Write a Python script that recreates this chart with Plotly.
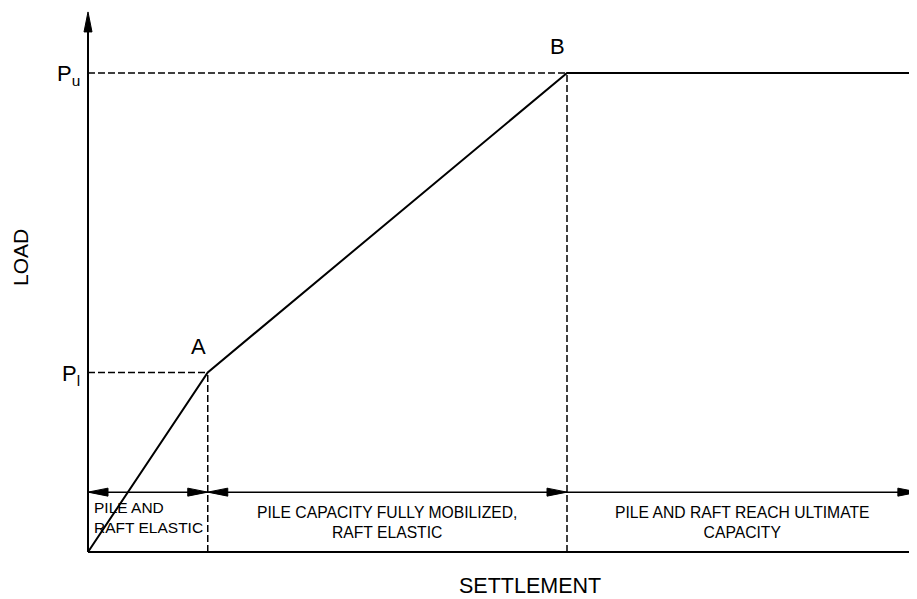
import plotly.graph_objects as go

# ---- data (settlement / load in arbitrary units) ----
settlement = [0.0, 1.0, 4.0, 6.93]
load = [0.0, 1.5, 4.0, 4.0]
point_labels = ["A", "B"]
point_settlement = [1.0, 4.0]
point_load = [1.5, 4.0]
load_tick_labels = ["P<sub>l</sub>", "P<sub>u</sub>"]
zone_bounds = [0.0, 1.0, 4.0, 6.93]
zone_texts = [
    "PILE AND<br>RAFT ELASTIC",
    "PILE CAPACITY FULLY MOBILIZED,<br>RAFT ELASTIC",
    "PILE AND RAFT REACH ULTIMATE<br>CAPACITY",
]
zone_arrow_load = 0.5
y_axis_top = 4.51

# ---- layout constants ----
PAGE_W, PAGE_H = 917, 599
OFF = 8                      # default body margin of the html page
W, H = PAGE_W - OFF, PAGE_H - OFF
PX = 119.75                  # pixels per data unit
X0, Y0 = 88, 552             # page pixel position of origin
FONT = "Liberation Sans, Arial, Helvetica, sans-serif"
BLACK = "#000000"

xr = [-(X0 - OFF) / PX, (PAGE_W - X0) / PX]
yr = [-(PAGE_H - Y0) / PX, (Y0 - OFF) / PX]

fig = go.Figure()

def line(xs, ys, width=2, dash=None):
    fig.add_trace(go.Scatter(x=xs, y=ys, mode="lines",
                             line=dict(color=BLACK, width=width, dash=dash),
                             hoverinfo="skip", showlegend=False))

def head(tx, ty, dx, dy, length=20, half=4):
    L, Wd = length / PX, half / PX
    bx, by = tx - dx * L, ty - dy * L
    px_, py_ = -dy * Wd, dx * Wd
    fig.add_trace(go.Scatter(
        x=[tx, bx + px_, bx - px_, tx], y=[ty, by + py_, by - py_, ty],
        mode="lines", fill="toself", fillcolor=BLACK,
        line=dict(color=BLACK, width=1), hoverinfo="skip", showlegend=False))

# axes
line([0, 0], [0, y_axis_top - 0.1], width=2)
head(0, y_axis_top, 0, 1)
line([0, zone_bounds[-1]], [0, 0], width=2)

# dashed guide lines
for s, p in zip(point_settlement, point_load):
    line([0, s], [p, p], width=1.5, dash="7px,3px")
    line([s, s], [0, p], width=1.5, dash="7px,3px")

# load-settlement curve
line(settlement, load, width=2)

# zone dimension line with arrowheads
line([zone_bounds[0], zone_bounds[-1]], [zone_arrow_load] * 2, width=1.5)
head(zone_bounds[0], zone_arrow_load, -1, 0)
head(zone_bounds[1], zone_arrow_load, 1, 0)
head(zone_bounds[1], zone_arrow_load, -1, 0)
head(zone_bounds[2], zone_arrow_load, 1, 0)
head(zone_bounds[3], zone_arrow_load, 1, 0)

ann = []
# zone texts
ann.append(dict(x=zone_bounds[0] + 4 / PX, y=(Y0 - 517.5) / PX, text=zone_texts[0],
                xanchor="left", yanchor="middle", align="left", showarrow=False,
                font=dict(size=15.5, family=FONT, color=BLACK)))
for i in (1, 2):
    ann.append(dict(x=(zone_bounds[i] + zone_bounds[i + 1]) / 2, y=(Y0 - 522) / PX,
                    text=zone_texts[i], xanchor="center", yanchor="middle",
                    align="center", showarrow=False,
                    font=dict(size=15.7, family=FONT, color=BLACK)))
# point labels
for lab, s, p in zip(point_labels, point_settlement, point_load):
    ann.append(dict(x=s - 0.08, y=p + 0.22, text=lab, showarrow=False,
                    xanchor="center", yanchor="middle",
                    font=dict(size=22, family=FONT, color=BLACK)))
# load tick labels
for lab, p in zip(load_tick_labels, point_load):
    ann.append(dict(x=-6 / PX, y=p - 0.02, text=lab, showarrow=False,
                    xanchor="right", yanchor="middle",
                    font=dict(size=22, family=FONT, color=BLACK)))
# axis titles
ann.append(dict(x=(20 - X0) / PX, y=(Y0 - 258) / PX, text="LOAD", textangle=-90,
                showarrow=False, xanchor="center", yanchor="middle",
                font=dict(size=21, family=FONT, color=BLACK)))
ann.append(dict(x=(530 - X0) / PX, y=(Y0 - 586) / PX, text="SETTLEMENT",
                showarrow=False, xanchor="center", yanchor="middle",
                font=dict(size=21.5, family=FONT, color=BLACK)))

fig.update_layout(
    width=W, height=H, margin=dict(l=0, r=0, t=0, b=0),
    paper_bgcolor="white", plot_bgcolor="white",
    xaxis=dict(range=xr, visible=False, fixedrange=True),
    yaxis=dict(range=yr, visible=False, fixedrange=True),
    annotations=ann, showlegend=False,
)

fig.write_html("out.html")
